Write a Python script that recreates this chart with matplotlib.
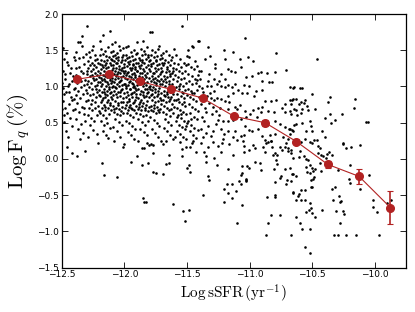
# Quenched fraction vs specific SFR: galaxies + binned median with errors

import numpy as np
import matplotlib.pyplot as plt

plt.rcParams['mathtext.fontset'] = 'cm'


#%% Data

# binned values (red)
bin_x = [-12.375, -12.125, -11.875, -11.625, -11.375, -11.125, -10.875, -10.625, -10.375, -10.125, -9.875]
bin_y = [1.10, 1.17, 1.07, 0.96, 0.84, 0.59, 0.50, 0.24, -0.075, -0.24, -0.67]
bin_err = [0.03, 0.03, 0.03, 0.03, 0.03, 0.03, 0.04, 0.04, 0.05, 0.10, 0.23]

# individual galaxies, grouped by sSFR range
pts_125_123 = [(-12.493,1.53),(-12.481,1.38),(-12.466,1.46),(-12.452,1.29),(-12.489,1.22),(-12.437,1.19),(-12.472,1.11),
    (-12.418,1.08),(-12.496,1.05),(-12.447,1.01),(-12.405,0.97),(-12.462,0.93),(-12.484,0.89),(-12.428,0.86),(-12.491,0.80),
    (-12.441,0.76),(-12.476,0.71),(-12.497,0.69),(-12.412,0.68),(-12.458,0.63),(-12.433,0.56),(-12.479,0.51),(-12.421,0.45),
    (-12.468,0.39),(-12.451,0.31),(-12.488,0.98),(-12.409,1.14),(-12.426,1.26),(-12.443,0.92),(-12.415,0.82),(-12.474,1.17),
    (-12.457,1.34),(-12.402,1.41),(-12.438,1.04),(-12.485,0.60),(-12.46,0.16),(-12.42,0.08),
    (-12.395,1.36),(-12.382,1.48),(-12.371,1.61),(-12.354,1.61),(-12.34,1.56),(-12.34,1.70),(-12.362,1.27),(-12.347,1.22),
    (-12.318,1.31),(-12.305,1.45),(-12.388,1.16),(-12.376,1.05),(-12.359,1.12),(-12.331,1.18),(-12.312,1.09),(-12.394,0.98),
    (-12.368,0.94),(-12.343,0.99),(-12.322,1.02),(-12.303,0.95),(-12.386,0.88),(-12.351,0.84),(-12.327,0.90),(-12.379,0.77),
    (-12.337,0.72),(-12.308,0.80),(-12.392,0.69),(-12.361,0.65),(-12.325,0.62),(-12.384,0.55),(-12.348,0.48),(-12.315,0.52),
    (-12.372,0.41),(-12.333,0.36),(-12.356,0.27),(-12.38,0.04),(-12.31,0.11),(-12.389,1.25),(-12.301,1.21),(-12.365,1.39),
    (-12.328,1.40),(-12.345,1.07),(-12.398,0.83),(-12.318,0.70)]

pts_123_121 = [(-12.296,1.84),(-12.26,1.50),(-12.248,1.56),(-12.285,1.47),(-12.274,1.41),(-12.232,1.44),(-12.215,1.38),
    (-12.293,1.35),(-12.262,1.33),(-12.241,1.30),(-12.223,1.27),(-12.207,1.32),(-12.288,1.26),(-12.269,1.22),(-12.253,1.24),
    (-12.236,1.19),(-12.214,1.21),(-12.299,1.17),(-12.278,1.14),(-12.256,1.16),(-12.229,1.11),(-12.204,1.13),(-12.291,1.08),
    (-12.266,1.05),(-12.244,1.09),(-12.221,1.02),(-12.209,1.06),(-12.283,0.99),(-12.258,0.96),(-12.237,1.00),(-12.218,0.93),
    (-12.296,0.91),(-12.272,0.88),(-12.249,0.90),(-12.226,0.85),(-12.203,0.88),(-12.287,0.81),(-12.264,0.76),(-12.238,0.79),
    (-12.212,0.73),(-12.281,0.70),(-12.255,0.67),(-12.231,0.70),(-12.206,0.66),(-12.293,0.61),(-12.268,0.57),(-12.243,0.52),
    (-12.217,0.60),(-12.275,0.47),(-12.247,0.40),(-12.222,0.35),(-12.289,0.30),(-12.21,0.22),(-12.234,1.36),(-12.277,1.29),
    (-12.219,1.16),(-12.252,1.12),(-12.298,1.03),(-12.227,0.97),(-12.262,0.82),
    (-12.195,1.63),(-12.168,1.71),(-12.115,1.77),(-12.183,1.52),(-12.152,1.49),(-12.131,1.55),(-12.108,1.47),(-12.192,1.43),
    (-12.174,1.45),(-12.143,1.42),(-12.121,1.40),(-12.187,1.37),(-12.161,1.35),(-12.137,1.36),(-12.112,1.33),(-12.198,1.31),
    (-12.179,1.29),(-12.156,1.30),(-12.128,1.27),(-12.104,1.29),(-12.189,1.24),(-12.166,1.22),(-12.147,1.25),(-12.119,1.21),
    (-12.101,1.23),(-12.193,1.18),(-12.171,1.16),(-12.149,1.19),(-12.126,1.15),(-12.109,1.17),(-12.185,1.12),(-12.163,1.10),
    (-12.139,1.13),(-12.117,1.09),(-12.196,1.06),(-12.176,1.04),(-12.153,1.07),(-12.132,1.03),(-12.106,1.05),(-12.188,1.00),
    (-12.165,0.97),(-12.144,1.00),(-12.122,0.96),(-12.102,0.99),(-12.181,0.93),(-12.158,0.90),(-12.135,0.94),(-12.113,0.91),
    (-12.194,0.87),(-12.172,0.84),(-12.151,0.86),(-12.127,0.82),(-12.105,0.85),(-12.186,0.78),(-12.162,0.75),(-12.141,0.79),
    (-12.118,0.74),(-12.178,0.70),(-12.155,0.68),(-12.133,0.71),(-12.109,0.67),(-12.191,0.63),(-12.167,0.60),(-12.146,0.57),
    (-12.124,0.62),(-12.184,0.52),(-12.159,0.47),(-12.138,0.50),(-12.116,0.43),(-12.173,0.38),(-12.148,0.33),(-12.129,0.29),
    (-12.18,-0.05),(-12.16,-0.22),(-12.103,1.38),(-12.145,1.32),(-12.169,1.27),(-12.134,1.20),(-12.157,1.15),(-12.111,1.12),
    (-12.182,1.09),(-12.142,1.06),(-12.125,0.99),(-12.199,0.95),(-12.107,0.93),(-12.164,0.92),(-12.136,0.88),(-12.177,0.81),
    (-12.114,0.77),(-12.154,0.72)]

pts_121_119 = [(-12.097,1.58),(-12.072,1.61),(-12.041,1.56),(-12.013,1.53),(-12.088,1.49),(-12.061,1.46),(-12.035,1.50),
    (-12.008,1.44),(-12.094,1.42),(-12.069,1.39),(-12.047,1.41),(-12.021,1.37),(-12.083,1.35),(-12.056,1.32),(-12.029,1.34),
    (-12.004,1.31),(-12.091,1.29),(-12.066,1.26),(-12.043,1.28),(-12.018,1.25),(-12.078,1.22),(-12.052,1.20),(-12.026,1.23),
    (-12.002,1.19),(-12.086,1.17),(-12.063,1.15),(-12.038,1.18),(-12.011,1.14),(-12.095,1.12),(-12.074,1.10),(-12.049,1.12),
    (-12.023,1.09),(-12.081,1.06),(-12.058,1.04),(-12.032,1.07),(-12.006,1.03),(-12.092,1.01),(-12.067,0.98),(-12.044,1.00),
    (-12.016,0.97),(-12.079,0.94),(-12.054,0.92),(-12.027,0.95),(-12.003,0.91),(-12.088,0.88),(-12.062,0.85),(-12.036,0.87),
    (-12.012,0.84),(-12.075,0.80),(-12.05,0.77),(-12.024,0.79),(-12.093,0.73),(-12.068,0.71),(-12.041,0.69),(-12.015,0.72),
    (-12.084,0.65),(-12.057,0.62),(-12.031,0.60),(-12.007,0.64),(-12.077,0.55),(-12.046,0.51),(-12.019,0.47),(-12.09,0.44),
    (-12.06,0.38),(-12.033,0.31),(-12.08,0.25),(-12.01,0.17),(-12.0,0.21),(-12.06,-0.25),(-12.065,1.33),(-12.039,1.24),
    (-12.014,1.21),(-12.087,1.25),(-12.055,1.17),(-12.028,1.13),(-12.099,1.08),(-12.045,1.06),(-12.02,1.02),(-12.073,0.99),
    (-12.034,0.93),(-12.098,0.83),(-12.064,0.89),(-12.009,0.78),(-12.048,0.74),(-12.082,0.69),(-12.025,0.66),(-12.071,1.44),
    (-12.017,1.40),(-12.053,1.37),(-12.001,1.27),(-12.096,1.36),
    (-11.99,1.54),(-11.97,1.56),(-11.948,1.48),(-11.921,1.51),(-11.903,1.45),(-11.985,1.43),(-11.962,1.40),(-11.937,1.42),
    (-11.912,1.38),(-11.994,1.36),(-11.974,1.34),(-11.951,1.35),(-11.927,1.31),(-11.906,1.33),(-11.982,1.28),(-11.958,1.26),
    (-11.934,1.29),(-11.915,1.24),(-11.997,1.22),(-11.971,1.20),(-11.945,1.23),(-11.924,1.19),(-11.901,1.21),(-11.987,1.16),
    (-11.963,1.14),(-11.939,1.17),(-11.918,1.13),(-11.978,1.10),(-11.954,1.08),(-11.931,1.11),(-11.909,1.07),(-11.992,1.04),
    (-11.967,1.02),(-11.942,1.05),(-11.92,1.01),(-11.983,0.98),(-11.957,0.96),(-11.933,0.99),(-11.907,0.95),(-11.975,0.92),
    (-11.95,0.90),(-11.926,0.93),(-11.904,0.89),(-11.989,0.86),(-11.964,0.83),(-11.94,0.85),(-11.914,0.82),(-11.98,0.78),
    (-11.955,0.75),(-11.93,0.77),(-11.91,0.73),(-11.995,0.70),(-11.968,0.68),(-11.944,0.71),(-11.919,0.67),(-11.976,0.63),
    (-11.952,0.60),(-11.928,0.58),(-11.986,0.53),(-11.96,0.49),(-11.935,0.45),(-11.911,0.41),(-11.972,0.37),(-11.947,0.33),
    (-11.923,0.28),(-11.95,-0.04),(-11.9,0.04),(-11.89,0.25),(-11.9,1.61),(-11.961,1.31),(-11.936,1.25),(-11.913,1.16),
    (-11.979,1.18),(-11.946,1.13),(-11.902,1.10),(-11.966,1.06),(-11.929,1.03),(-11.988,1.00),(-11.953,0.97),(-11.917,0.98),
    (-11.941,0.91),(-11.97,0.88),(-11.908,0.86),(-11.959,0.80),(-11.925,0.79),(-11.984,0.74),(-11.938,0.69),(-11.905,0.64),
    (-11.965,0.72),(-11.993,1.12),(-11.932,1.37),(-11.981,1.39),(-11.916,1.27)]

pts_119_117 = [(-11.85,1.63),(-11.87,1.52),(-11.842,1.49),(-11.818,1.55),(-11.896,1.46),(-11.861,1.43),(-11.834,1.45),
    (-11.808,1.41),(-11.884,1.39),(-11.855,1.37),(-11.827,1.38),(-11.803,1.35),(-11.892,1.32),(-11.866,1.30),(-11.839,1.33),
    (-11.813,1.29),(-11.878,1.26),(-11.851,1.24),(-11.823,1.27),(-11.898,1.21),(-11.872,1.19),(-11.846,1.22),(-11.82,1.18),
    (-11.886,1.15),(-11.859,1.13),(-11.831,1.16),(-11.806,1.12),(-11.894,1.09),(-11.868,1.07),(-11.843,1.10),(-11.815,1.06),
    (-11.881,1.03),(-11.853,1.00),(-11.826,1.02),(-11.801,0.99),(-11.889,0.97),(-11.863,0.94),(-11.836,0.96),(-11.811,0.93),
    (-11.876,0.90),(-11.848,0.88),(-11.822,0.91),(-11.893,0.84),(-11.867,0.82),(-11.84,0.85),(-11.816,0.80),(-11.88,0.76),
    (-11.857,0.73),(-11.83,0.75),(-11.805,0.72),(-11.891,0.69),(-11.864,0.67),(-11.838,0.70),(-11.812,0.66),(-11.874,0.62),
    (-11.849,0.59),(-11.824,0.61),(-11.887,0.55),(-11.86,0.51),(-11.833,0.47),(-11.809,0.53),(-11.871,0.42),(-11.845,0.37),
    (-11.819,0.33),(-11.86,0.15),(-11.84,0.15),(-11.86,-0.08),(-11.82,0.22),(-11.81,-0.05),(-11.85,-0.54),(-11.84,-0.60),
    (-11.83,-0.60),(-11.882,1.28),(-11.856,1.19),(-11.829,1.13),(-11.804,1.24),(-11.869,1.11),(-11.841,1.05),(-11.817,0.97),
    (-11.895,1.02),(-11.852,0.92),(-11.828,0.87),(-11.873,0.79),(-11.847,0.77),(-11.802,0.86),(-11.883,0.72),(-11.835,0.68),
    (-11.858,1.34),(-11.814,1.43),(-11.877,1.36),
    (-11.796,1.75),(-11.775,1.75),(-11.72,1.56),(-11.78,1.50),(-11.752,1.47),(-11.731,1.52),(-11.707,1.44),(-11.789,1.43),
    (-11.764,1.40),(-11.741,1.42),(-11.715,1.38),(-11.797,1.36),(-11.77,1.33),(-11.746,1.35),(-11.722,1.31),(-11.784,1.28),
    (-11.758,1.26),(-11.735,1.29),(-11.71,1.25),(-11.792,1.22),(-11.767,1.19),(-11.743,1.21),(-11.718,1.17),(-11.779,1.14),
    (-11.754,1.12),(-11.728,1.15),(-11.703,1.11),(-11.786,1.08),(-11.761,1.06),(-11.737,1.09),(-11.712,1.04),(-11.795,1.01),
    (-11.769,0.99),(-11.748,1.02),(-11.724,0.98),(-11.782,0.95),(-11.756,0.92),(-11.732,0.94),(-11.706,0.91),(-11.79,0.88),
    (-11.765,0.85),(-11.739,0.87),(-11.716,0.84),(-11.777,0.81),(-11.751,0.78),(-11.727,0.80),(-11.704,0.76),(-11.787,0.73),
    (-11.762,0.70),(-11.738,0.72),(-11.713,0.69),(-11.774,0.66),(-11.749,0.63),(-11.725,0.65),(-11.793,0.58),(-11.766,0.54),
    (-11.742,0.50),(-11.719,0.46),(-11.781,0.42),(-11.755,0.36),(-11.73,0.31),(-11.8,0.19),(-11.79,0.21),(-11.77,0.19),
    (-11.77,0.08),(-11.77,-0.18),(-11.75,-0.20),(-11.71,0.25),(-11.783,1.31),(-11.759,1.18),(-11.734,1.24),(-11.709,1.20),
    (-11.771,1.10),(-11.744,1.05),(-11.72,1.07),(-11.798,0.97),(-11.753,0.96),(-11.729,0.89),(-11.776,0.90),(-11.708,0.82),
    (-11.763,0.75),(-11.733,0.67),(-11.785,0.68),(-11.747,1.37),(-11.701,1.33)]

pts_117_115 = [(-11.69,1.46),(-11.665,1.49),(-11.64,1.43),(-11.62,1.40),(-11.6,1.52),(-11.697,1.39),(-11.673,1.36),
    (-11.651,1.34),(-11.628,1.37),(-11.605,1.32),(-11.688,1.30),(-11.661,1.27),(-11.639,1.29),(-11.614,1.25),(-11.695,1.22),
    (-11.67,1.20),(-11.645,1.22),(-11.622,1.18),(-11.682,1.15),(-11.656,1.13),(-11.633,1.14),(-11.608,1.11),(-11.691,1.08),
    (-11.667,1.06),(-11.642,1.08),(-11.617,1.04),(-11.678,1.01),(-11.653,0.98),(-11.629,1.00),(-11.604,0.97),(-11.686,0.94),
    (-11.662,0.92),(-11.637,0.93),(-11.611,0.90),(-11.674,0.87),(-11.648,0.85),(-11.625,0.86),(-11.693,0.81),(-11.668,0.78),
    (-11.643,0.80),(-11.618,0.76),(-11.68,0.73),(-11.655,0.71),(-11.631,0.69),(-11.606,0.72),(-11.689,0.65),(-11.664,0.62),
    (-11.638,0.59),(-11.613,0.63),(-11.675,0.55),(-11.65,0.51),(-11.627,0.47),(-11.685,0.43),(-11.66,0.38),(-11.635,0.33),
    (-11.61,0.28),(-11.69,-0.21),(-11.67,-0.07),(-11.64,-0.06),(-11.64,0.05),(-11.69,0.21),(-11.67,0.25),(-11.61,-0.62),
    (-11.681,1.33),(-11.658,1.24),(-11.634,1.17),(-11.61,1.21),(-11.671,1.11),(-11.646,1.03),(-11.62,0.95),(-11.699,1.03),
    (-11.659,0.89),(-11.632,0.83),(-11.684,0.88),(-11.644,0.67),(-11.603,0.81),
    (-11.537,1.84),(-11.556,1.38),(-11.5,1.425),(-11.59,1.44),(-11.572,1.31),(-11.548,1.27),(-11.522,1.33),(-11.505,1.29),
    (-11.585,1.24),(-11.561,1.21),(-11.538,1.18),(-11.514,1.22),(-11.594,1.16),(-11.569,1.13),(-11.545,1.10),(-11.52,1.12),
    (-11.58,1.07),(-11.555,1.04),(-11.53,1.01),(-11.508,1.05),(-11.588,0.99),(-11.564,0.96),(-11.54,0.93),(-11.516,0.95),
    (-11.576,0.90),(-11.551,0.87),(-11.527,0.84),(-11.503,0.88),(-11.591,0.82),(-11.567,0.79),(-11.543,0.76),(-11.518,0.73),
    (-11.582,0.71),(-11.558,0.68),(-11.534,0.65),(-11.51,0.62),(-11.574,0.60),(-11.549,0.56),(-11.525,0.53),(-11.501,0.50),
    (-11.587,0.52),(-11.562,0.47),(-11.539,0.44),(-11.513,0.41),(-11.578,0.39),(-11.553,0.35),(-11.529,0.31),(-11.506,0.28),
    (-11.543,0.14),(-11.537,0.04),(-11.535,-0.72),(-11.516,-0.86),(-11.51,0.17),(-11.5,-0.13),(-11.595,0.30),(-11.566,1.01),
    (-11.531,0.91),(-11.575,0.83),(-11.521,0.78),(-11.547,0.62),(-11.583,0.58),(-11.511,0.46),(-11.557,0.24)]

pts_115_112 = [(-11.49,1.50),(-11.484,1.40),(-11.463,1.56),(-11.45,1.55),(-11.436,1.356),(-11.41,1.63),(-11.40,1.63),
    (-11.495,1.31),(-11.471,1.27),(-11.447,1.24),(-11.423,1.28),(-11.403,1.21),(-11.488,1.17),(-11.462,1.14),(-11.438,1.11),
    (-11.415,1.16),(-11.481,1.07),(-11.456,1.03),(-11.43,1.05),(-11.407,1.00),(-11.493,0.97),(-11.468,0.94),(-11.443,0.91),
    (-11.419,0.95),(-11.477,0.86),(-11.452,0.83),(-11.427,0.80),(-11.404,0.86),(-11.486,0.76),(-11.46,0.72),(-11.434,0.69),
    (-11.411,0.66),(-11.472,0.63),(-11.447,0.58),(-11.422,0.55),(-11.49,0.52),(-11.465,0.47),(-11.44,0.43),(-11.415,0.40),
    (-11.478,0.38),(-11.453,0.33),(-11.428,0.29),(-11.48,-0.70),(-11.48,-0.08),(-11.476,-0.18),(-11.476,0.17),(-11.46,0.22),
    (-11.45,0.25),(-11.43,0.09),(-11.47,0.55),(-11.457,0.91),(-11.42,1.09),
    (-11.39,0.22),(-11.388,1.218),(-11.37,-0.50),(-11.36,0.09),(-11.35,0.04),(-11.35,-0.04),(-11.356,1.38),(-11.335,1.54),
    (-11.335,-0.23),(-11.32,-0.29),(-11.33,0.16),(-11.317,1.425),(-11.325,1.172),(-11.309,1.011),(-11.343,1.011),(-11.33,1.08),
    (-11.317,0.905),(-11.343,0.873),(-11.395,1.10),(-11.38,0.98),(-11.372,0.92),(-11.365,0.82),(-11.39,0.76),(-11.358,0.71),
    (-11.345,0.65),(-11.38,0.58),(-11.362,0.52),(-11.333,0.45),(-11.39,0.41),(-11.35,0.36),(-11.31,0.32),(-11.375,0.30),
    (-11.302,0.62),(-11.326,0.77),(-11.305,0.84),
    (-11.277,1.31),(-11.272,1.255),(-11.282,1.103),(-11.256,1.034),(-11.245,1.08),(-11.224,1.011),(-11.282,0.942),(-11.256,0.841),
    (-11.282,0.813),(-11.224,0.827),(-11.25,0.537),(-11.21,0.528),(-11.224,0.413),(-11.202,0.344),(-11.224,1.172),(-11.2,1.50),
    (-11.29,0.23),(-11.28,0.01),(-11.26,-0.08),(-11.25,0.18),(-11.23,0.10),(-11.22,0.22),(-11.20,-0.41),(-11.20,-0.59),
    (-11.197,1.38),(-11.197,1.103),(-11.197,0.997),(-11.197,0.804),(-11.29,0.72),(-11.265,0.66),(-11.24,0.60),(-11.27,0.48),
    (-11.235,0.70),(-11.295,0.38),(-11.215,0.28)]

pts_112_109 = [(-11.17,1.24),(-11.15,1.21),(-11.13,1.48),(-11.112,1.195),(-11.165,0.781),(-11.17,0.873),(-11.13,0.905),
    (-11.17,1.02),(-11.138,0.997),(-11.112,1.034),(-11.17,0.689),(-11.117,0.721),(-11.17,0.528),(-11.13,0.537),(-11.17,0.381),
    (-11.13,0.307),(-11.112,0.381),(-11.18,-0.34),(-11.17,-0.47),(-11.14,-0.34),(-11.14,-0.54),(-11.17,-0.14),(-11.16,0.20),
    (-11.13,0.05),(-11.11,-0.44),(-11.10,0.26),(-11.10,-0.89),
    (-11.096,0.689),(-11.077,0.749),(-11.09,0.951),(-11.077,1.38),(-11.064,1.264),(-11.059,0.905),(-11.064,0.551),(-11.07,0.321),
    (-11.043,0.335),(-11.037,0.459),(-11.043,1.025),(-11.032,0.666),(-11.024,1.126),(-11.024,0.574),(-11.016,0.905),(-11.01,1.40),
    (-11.005,1.011),(-11.005,0.399),(-11.037,1.67),(-11.085,-0.30),(-11.07,-0.22),(-11.065,-0.35),(-11.06,-0.19),(-11.06,-0.1),
    (-11.06,-0.63),(-11.04,0.18),(-11.04,0.10),(-11.05,0.25),(-11.03,-0.27),(-11.03,-0.31),(-11.02,-0.1),(-11.005,-0.12),
    (-11.03,-0.29),(-11.005,0.12),
    (-10.997,0.62),(-10.984,1.149),(-10.979,0.39),(-10.97,1.356),(-10.971,0.675),(-10.963,0.873),(-10.952,0.942),(-10.944,0.583),
    (-10.936,0.703),(-10.936,1.18),(-10.931,0.413),(-10.91,1.195),(-10.91,0.643),(-10.904,0.951),(-10.904,0.321),(-10.96,-0.04),
    (-10.955,0.15),(-10.97,0.19),(-10.915,-0.06),(-10.91,-0.15)]

pts_109_106 = [(-10.9,1.08),(-10.899,0.721),(-10.873,0.795),(-10.873,0.261),(-10.864,1.18),(-10.851,0.657),(-10.846,1.057),
    (-10.838,0.335),(-10.83,0.795),(-10.83,0.252),(-10.82,1.057),(-10.803,0.643),(-10.798,0.528),(-10.798,0.344),(-10.89,0.16),
    (-10.88,0.09),(-10.87,0.22),(-10.85,0.23),(-10.825,0.25),(-10.82,0.16),(-10.86,-0.53),(-10.867,-1.05),(-10.85,-0.89),
    (-10.83,-0.77),(-10.80,-0.52),(-10.80,-0.50),(-10.806,-0.14),(-10.80,-0.32),(-10.81,0.05),(-10.80,0.08),
    (-10.793,1.195),(-10.79,0.813),(-10.785,1.46),(-10.758,0.482),(-10.74,0.703),(-10.731,0.307),(-10.718,0.758),(-10.718,0.436),
    (-10.713,0.643),(-10.705,1.227),(-10.79,-0.01),(-10.78,0.06),(-10.78,-0.07),(-10.76,-0.77),(-10.75,-0.24),(-10.76,-0.26),
    (-10.755,0.16),(-10.74,0.12),(-10.72,0.17),(-10.71,0.22),(-10.72,-0.14),(-10.71,-0.35),(-10.70,-0.29),
    (-10.692,0.275),(-10.684,0.413),(-10.678,0.988),(-10.678,0.666),(-10.673,0.81),(-10.673,0.41),(-10.67,0.758),(-10.665,0.62),
    (-10.657,0.82),(-10.657,0.40),(-10.652,0.979),(-10.652,0.827),(-10.652,0.381),(-10.646,0.99),(-10.646,0.69),(-10.646,0.47),
    (-10.625,0.83),(-10.625,0.67),(-10.625,0.48),(-10.62,0.61),(-10.603,0.76),(-10.678,0.34),(-10.69,0.15),(-10.69,0.11),
    (-10.67,-0.31),(-10.665,-1.05),(-10.65,-0.21),(-10.65,-0.46),(-10.665,0.125),(-10.67,0.08),(-10.65,0.01),(-10.68,-0.13),
    (-10.66,-0.21),(-10.63,-0.24),(-10.65,-0.47),(-10.614,-0.51),(-10.625,-0.57),(-10.606,-0.48),(-10.625,-0.80),(-10.603,0.03)]

pts_106_098 = [(-10.598,0.98),(-10.58,0.98),(-10.585,0.79),(-10.577,0.69),(-10.585,0.63),(-10.566,0.77),(-10.553,0.81),
    (-10.54,0.735),(-10.53,0.67),(-10.577,0.49),(-10.545,0.39),(-10.558,0.275),(-10.585,0.23),(-10.513,0.52),(-10.505,0.46),
    (-10.50,0.39),(-10.598,0.115),(-10.566,0.04),(-10.55,-0.005),(-10.532,-0.015),(-10.545,-0.11),(-10.54,-0.18),(-10.513,-0.08),
    (-10.513,-0.19),(-10.513,0.24),(-10.585,-0.43),(-10.56,-0.43),(-10.56,-0.57),(-10.59,-0.57),(-10.598,-0.89),(-10.58,-0.96),
    (-10.52,-0.96),(-10.553,-1.22),(-10.513,-1.30),(-10.545,-0.73),(-10.526,-0.71),(-10.505,-0.68),(-10.518,-0.61),(-10.505,-0.29),
    (-10.505,-0.38),
    (-10.497,0.896),(-10.478,0.69),(-10.486,0.26),(-10.46,0.26),(-10.458,1.379),(-10.42,0.38),(-10.497,0.225),(-10.455,0.18),
    (-10.44,0.15),(-10.45,0.08),(-10.425,0.055),(-10.41,0.04),(-10.44,-0.06),(-10.425,-0.17),(-10.497,-0.12),(-10.49,-0.16),
    (-10.478,-0.14),(-10.486,-0.25),(-10.49,-0.28),(-10.50,-0.39),(-10.497,-0.74),(-10.478,-0.80),(-10.418,-0.70),
    (-10.399,0.56),(-10.394,0.30),(-10.372,0.79),(-10.354,0.86),(-10.359,0.62),(-10.346,0.50),(-10.314,0.54),(-10.38,0.07),
    (-10.364,0.09),(-10.345,0.055),(-10.385,0.01),(-10.338,-0.42),(-10.32,-0.39),(-10.332,-0.56),(-10.306,-0.72),(-10.325,-1.05),
    (-10.258,0.62),(-10.25,0.215),(-10.292,-0.15),(-10.284,-0.51),(-10.28,-0.59),(-10.266,-0.58),(-10.253,-0.72),(-10.247,-0.76),
    (-10.28,-0.89),(-10.292,-1.05),(-10.23,-1.05),(-10.253,0.207),(-10.226,0.15),(-10.204,-0.27),(-10.2,-0.33),
    (-10.16,0.83),(-10.165,0.70),(-10.186,0.17),(-10.12,0.19),(-10.194,-0.083),(-10.12,-0.41),(-10.15,-1.05),(-10.053,0.505),
    (-10.066,0.51),(-10.045,-0.22),(-10.013,-0.57),(-9.98,-0.73),(-10.013,-0.66),(-9.965,-1.05),(-9.9,-0.61),(-9.867,-0.56),
    (-9.885,-0.66)]


#%% Make plot

galaxies = np.array(pts_125_123 + pts_123_121 + pts_121_119 + pts_119_117
                    + pts_117_115 + pts_115_112 + pts_112_109 + pts_109_106 + pts_106_098)

fig = plt.figure(figsize=(4.15, 3.12), dpi=100)
ax = fig.add_axes([0.1487, 0.142, 0.8296, 0.8131])

ax.scatter(galaxies[:, 0], galaxies[:, 1], s=3.5, c='k', linewidths=0, zorder=2)

ax.errorbar(bin_x, bin_y, yerr=bin_err, color='#b22222', marker='o', ms=5.5,
            lw=0.8, elinewidth=1.2, capsize=2, capthick=0.8, zorder=3)

ax.set_xlim(-12.5, -9.75)
ax.set_ylim(-1.5, 2.0)
ax.set_xticks([-12.5, -12.0, -11.5, -11.0, -10.5, -10.0])
ax.set_yticks([-1.5, -1.0, -0.5, 0.0, 0.5, 1.0, 1.5, 2.0])
ax.tick_params(direction='in', top=True, right=True, length=4, width=0.6, labelsize=6.5, pad=2)
for s in ax.spines.values():
    s.set_linewidth(0.9)

ax.set_xlabel(r'$\mathrm{Log\,sSFR\,(yr^{-1})}$', fontsize=11, labelpad=2)
ax.set_ylabel(r'$\mathrm{Log\,F}_q\,(\%)$', fontsize=15, labelpad=4)

fig.savefig('out.png', dpi=100)
